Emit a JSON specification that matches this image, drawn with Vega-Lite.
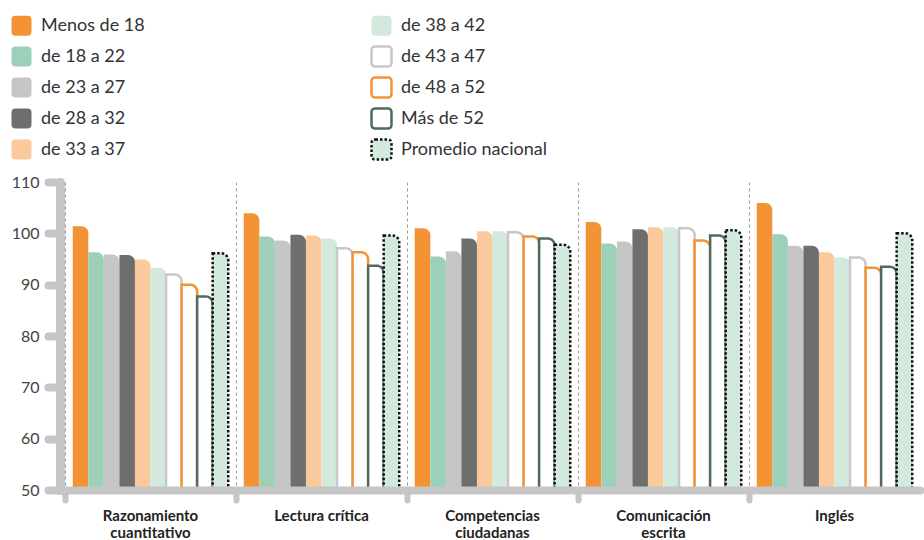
{
  "$schema": "https://vega.github.io/schema/vega-lite/v6.json",
  "width": 855,
  "height": 308,
  "autosize": {"type": "none"},
  "padding": {"left": 65, "top": 182, "right": 4, "bottom": 50},
  "background": "white",
  "config": {"font": "Lato", "view": {"stroke": null}},
  "data": {
    "values": [
      {"Prueba": "Razonamiento cuantitativo", "Grupo": "Menos de 18", "Puntaje": 101.4},
      {"Prueba": "Razonamiento cuantitativo", "Grupo": "de 18 a 22", "Puntaje": 96.3},
      {"Prueba": "Razonamiento cuantitativo", "Grupo": "de 23 a 27", "Puntaje": 95.9},
      {"Prueba": "Razonamiento cuantitativo", "Grupo": "de 28 a 32", "Puntaje": 95.8},
      {"Prueba": "Razonamiento cuantitativo", "Grupo": "de 33 a 37", "Puntaje": 94.9},
      {"Prueba": "Razonamiento cuantitativo", "Grupo": "de 38 a 42", "Puntaje": 93.3},
      {"Prueba": "Razonamiento cuantitativo", "Grupo": "de 43 a 47", "Puntaje": 92.0},
      {"Prueba": "Razonamiento cuantitativo", "Grupo": "de 48 a 52", "Puntaje": 90.0},
      {"Prueba": "Razonamiento cuantitativo", "Grupo": "Más de 52", "Puntaje": 87.7},
      {"Prueba": "Razonamiento cuantitativo", "Grupo": "Promedio nacional", "Puntaje": 96.1},
      {"Prueba": "Lectura crítica", "Grupo": "Menos de 18", "Puntaje": 103.9},
      {"Prueba": "Lectura crítica", "Grupo": "de 18 a 22", "Puntaje": 99.4},
      {"Prueba": "Lectura crítica", "Grupo": "de 23 a 27", "Puntaje": 98.6},
      {"Prueba": "Lectura crítica", "Grupo": "de 28 a 32", "Puntaje": 99.7},
      {"Prueba": "Lectura crítica", "Grupo": "de 33 a 37", "Puntaje": 99.6},
      {"Prueba": "Lectura crítica", "Grupo": "de 38 a 42", "Puntaje": 99.0},
      {"Prueba": "Lectura crítica", "Grupo": "de 43 a 47", "Puntaje": 97.1},
      {"Prueba": "Lectura crítica", "Grupo": "de 48 a 52", "Puntaje": 96.3},
      {"Prueba": "Lectura crítica", "Grupo": "Más de 52", "Puntaje": 93.7},
      {"Prueba": "Lectura crítica", "Grupo": "Promedio nacional", "Puntaje": 99.6},
      {"Prueba": "Competencias ciudadanas", "Grupo": "Menos de 18", "Puntaje": 101.0},
      {"Prueba": "Competencias ciudadanas", "Grupo": "de 18 a 22", "Puntaje": 95.5},
      {"Prueba": "Competencias ciudadanas", "Grupo": "de 23 a 27", "Puntaje": 96.5},
      {"Prueba": "Competencias ciudadanas", "Grupo": "de 28 a 32", "Puntaje": 99.0},
      {"Prueba": "Competencias ciudadanas", "Grupo": "de 33 a 37", "Puntaje": 100.4},
      {"Prueba": "Competencias ciudadanas", "Grupo": "de 38 a 42", "Puntaje": 100.4},
      {"Prueba": "Competencias ciudadanas", "Grupo": "de 43 a 47", "Puntaje": 100.2},
      {"Prueba": "Competencias ciudadanas", "Grupo": "de 48 a 52", "Puntaje": 99.4},
      {"Prueba": "Competencias ciudadanas", "Grupo": "Más de 52", "Puntaje": 99.0},
      {"Prueba": "Competencias ciudadanas", "Grupo": "Promedio nacional", "Puntaje": 97.8},
      {"Prueba": "Comunicación escrita", "Grupo": "Menos de 18", "Puntaje": 102.2},
      {"Prueba": "Comunicación escrita", "Grupo": "de 18 a 22", "Puntaje": 98.0},
      {"Prueba": "Comunicación escrita", "Grupo": "de 23 a 27", "Puntaje": 98.4},
      {"Prueba": "Comunicación escrita", "Grupo": "de 28 a 32", "Puntaje": 100.8},
      {"Prueba": "Comunicación escrita", "Grupo": "de 33 a 37", "Puntaje": 101.2},
      {"Prueba": "Comunicación escrita", "Grupo": "de 38 a 42", "Puntaje": 101.2},
      {"Prueba": "Comunicación escrita", "Grupo": "de 43 a 47", "Puntaje": 101.0},
      {"Prueba": "Comunicación escrita", "Grupo": "de 48 a 52", "Puntaje": 98.6},
      {"Prueba": "Comunicación escrita", "Grupo": "Más de 52", "Puntaje": 99.6},
      {"Prueba": "Comunicación escrita", "Grupo": "Promedio nacional", "Puntaje": 100.6},
      {"Prueba": "Inglés", "Grupo": "Menos de 18", "Puntaje": 105.9},
      {"Prueba": "Inglés", "Grupo": "de 18 a 22", "Puntaje": 99.8},
      {"Prueba": "Inglés", "Grupo": "de 23 a 27", "Puntaje": 97.6},
      {"Prueba": "Inglés", "Grupo": "de 28 a 32", "Puntaje": 97.6},
      {"Prueba": "Inglés", "Grupo": "de 33 a 37", "Puntaje": 96.3},
      {"Prueba": "Inglés", "Grupo": "de 38 a 42", "Puntaje": 95.3},
      {"Prueba": "Inglés", "Grupo": "de 43 a 47", "Puntaje": 95.3},
      {"Prueba": "Inglés", "Grupo": "de 48 a 52", "Puntaje": 93.3},
      {"Prueba": "Inglés", "Grupo": "Más de 52", "Puntaje": 93.5},
      {"Prueba": "Inglés", "Grupo": "Promedio nacional", "Puntaje": 100.0}
    ]
  },
  "mark": {"type": "bar", "cornerRadiusTopRight": 7, "strokeWidth": 2.5},
  "encoding": {
    "x": {
      "field": "Prueba",
      "type": "nominal",
      "sort": ["Razonamiento cuantitativo", "Lectura crítica", "Competencias ciudadanas", "Comunicación escrita", "Inglés"],
      "scale": {"paddingInner": 0, "paddingOuter": 0},
      "axis": {
        "title": null,
        "bandPosition": 0,
        "grid": true,
        "gridDash": [3, 3],
        "gridColor": "#9a9a9a",
        "gridWidth": 1,
        "domainColor": "#c6c6c6",
        "domainWidth": 8,
        "domainCap": "round",
        "tickColor": "#c6c6c6",
        "tickWidth": 6,
        "tickSize": 10,
        "tickCap": "round",
        "labelAngle": 0,
        "labelFontSize": 15,
        "labelFontWeight": "bold",
        "labelColor": "#222222",
        "labelPadding": 8,
        "labelLineHeight": 17.5,
        "labelExpr": "datum.label == 'Lectura crítica' ? datum.label : split(datum.label, ' ')",
        "zindex": 1
      }
    },
    "xOffset": {
      "field": "Grupo",
      "type": "nominal",
      "sort": ["Menos de 18", "de 18 a 22", "de 23 a 27", "de 28 a 32", "de 33 a 37", "de 38 a 42", "de 43 a 47", "de 48 a 52", "Más de 52", "Promedio nacional"],
      "scale": {"paddingInner": 0, "paddingOuter": 0.5}
    },
    "y": {
      "field": "Puntaje",
      "type": "quantitative",
      "scale": {"domain": [50, 110], "nice": false, "zero": false},
      "axis": {
        "title": null,
        "values": [50, 60, 70, 80, 90, 100, 110],
        "grid": false,
        "domainColor": "#c6c6c6",
        "domainWidth": 9,
        "domainCap": "round",
        "tickColor": "#c6c6c6",
        "tickWidth": 8,
        "tickSize": 12,
        "tickCap": "round",
        "offset": 5,
        "labelFontSize": 16,
        "labelColor": "#444444",
        "labelPadding": 9,
        "zindex": 1
      }
    },
    "y2": {"datum": 50},
    "fill": {
      "field": "Grupo",
      "type": "nominal",
      "scale": {
        "domain": ["Menos de 18", "de 18 a 22", "de 23 a 27", "de 28 a 32", "de 33 a 37", "de 38 a 42", "de 43 a 47", "de 48 a 52", "Más de 52", "Promedio nacional"],
        "range": ["#F39336", "#9DD0B8", "#C6C6C6", "#6E6E6E", "#FAC99C", "#D3E9DD", "#FFFFFF", "#FFFFFF", "#FFFFFF", "#D3E9DD"]
      },
      "legend": {
        "title": null,
        "orient": "none",
        "legendX": -55,
        "legendY": -168,
        "columns": 2,
        "columnPadding": 221,
        "rowPadding": 0,
        "symbolType": "M -0.6 -1 H 0.6 Q 1 -1 1 -0.6 V 0.6 Q 1 1 0.6 1 H -0.6 Q -1 1 -1 0.6 V -0.6 Q -1 -1 -0.6 -1 Z",
        "symbolSize": 400,
        "symbolStrokeWidth": 2.5,
        "labelFontSize": 18,
        "labelColor": "#333333",
        "labelOffset": 8
      }
    },
    "stroke": {
      "field": "Grupo",
      "type": "nominal",
      "scale": {
        "domain": ["Menos de 18", "de 18 a 22", "de 23 a 27", "de 28 a 32", "de 33 a 37", "de 38 a 42", "de 43 a 47", "de 48 a 52", "Más de 52", "Promedio nacional"],
        "range": ["transparent", "transparent", "transparent", "transparent", "transparent", "transparent", "#C8C8C8", "#F39336", "#4F6B5C", "#111111"]
      },
      "legend": {
        "title": null,
        "orient": "none",
        "legendX": -55,
        "legendY": -168,
        "columns": 2,
        "columnPadding": 221,
        "rowPadding": 0,
        "symbolType": "M -0.6 -1 H 0.6 Q 1 -1 1 -0.6 V 0.6 Q 1 1 0.6 1 H -0.6 Q -1 1 -1 0.6 V -0.6 Q -1 -1 -0.6 -1 Z",
        "symbolSize": 400,
        "symbolStrokeWidth": 2.5,
        "labelFontSize": 18,
        "labelColor": "#333333",
        "labelOffset": 8
      }
    },
    "strokeDash": {
      "field": "Grupo",
      "type": "nominal",
      "scale": {
        "domain": ["Menos de 18", "de 18 a 22", "de 23 a 27", "de 28 a 32", "de 33 a 37", "de 38 a 42", "de 43 a 47", "de 48 a 52", "Más de 52", "Promedio nacional"],
        "range": [[1, 0], [1, 0], [1, 0], [1, 0], [1, 0], [1, 0], [1, 0], [1, 0], [1, 0], [2.5, 2]]
      },
      "legend": {
        "title": null,
        "orient": "none",
        "legendX": -55,
        "legendY": -168,
        "columns": 2,
        "columnPadding": 221,
        "rowPadding": 0,
        "symbolType": "M -0.6 -1 H 0.6 Q 1 -1 1 -0.6 V 0.6 Q 1 1 0.6 1 H -0.6 Q -1 1 -1 0.6 V -0.6 Q -1 -1 -0.6 -1 Z",
        "symbolSize": 400,
        "symbolStrokeWidth": 2.5,
        "labelFontSize": 18,
        "labelColor": "#333333",
        "labelOffset": 8
      }
    }
  }
}
